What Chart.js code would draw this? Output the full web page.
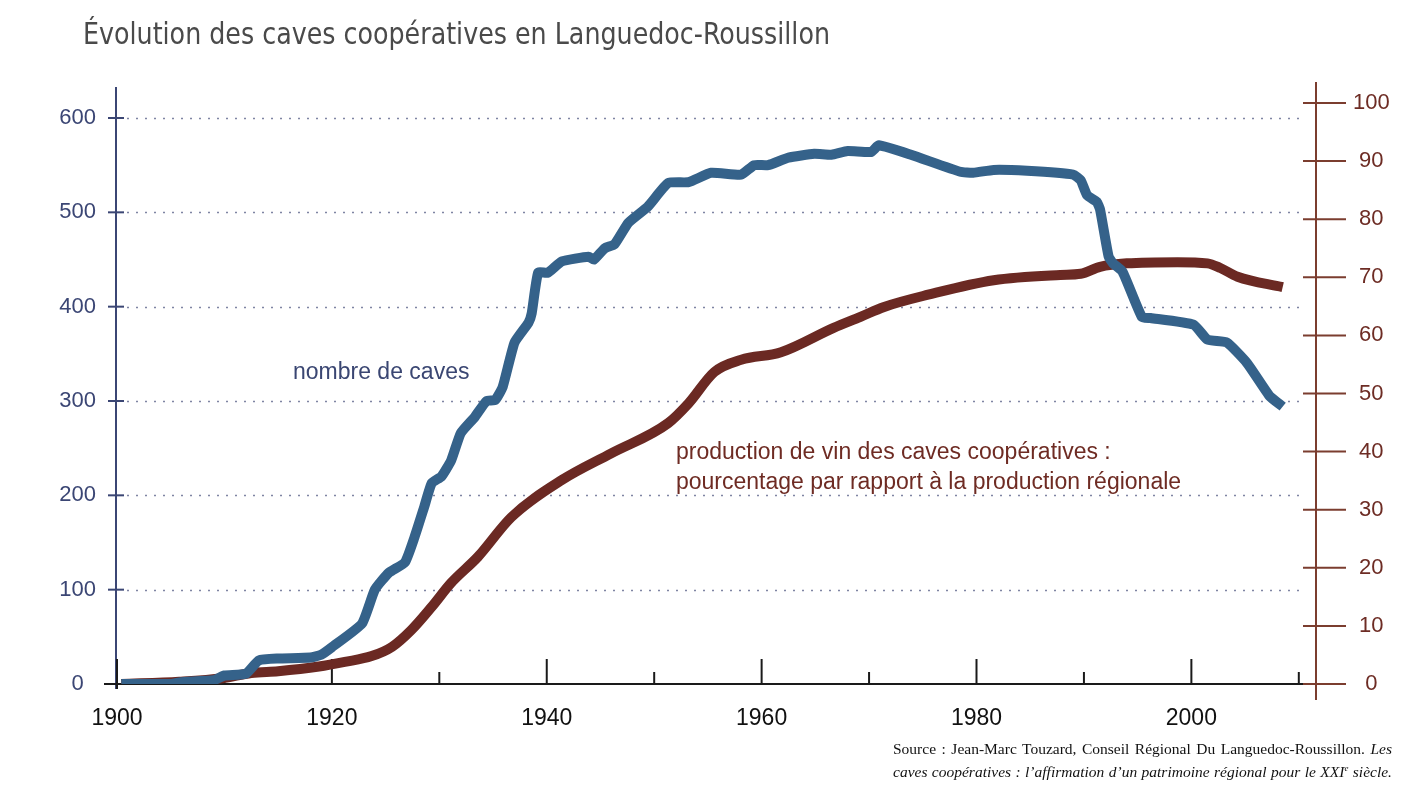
<!DOCTYPE html>
<html lang="fr">
<head>
<meta charset="utf-8">
<title>Évolution des caves coopératives en Languedoc-Roussillon</title>
<script src="https://cdn.jsdelivr.net/npm/chart.js@4.4.1/dist/chart.umd.min.js"></script>
<style>
  body { margin: 0; background: #fff; }
  #wrap { position: relative; width: 1426px; height: 800px; overflow: hidden; }
  #chart { position: absolute; left: 0; top: 0; }
  .title {
    position: absolute; left: 83px; top: 13px;
    font-family: "Liberation Sans Narrow", "DejaVu Sans Condensed", "DejaVu Sans", sans-serif;
    font-size: 31px; line-height: 40px; color: #4a4a4a; white-space: nowrap;
    transform-origin: 0 0;
  }
  .note {
    position: absolute; font-family: "Liberation Sans", Arial, sans-serif;
    font-size: 23px; line-height: 30px; white-space: nowrap;
  }
  .source {
    position: absolute; left: 893px; width: 499px;
    font-family: "Liberation Serif", "Times New Roman", serif;
    font-size: 15.5px; line-height: 23px; color: #111;
    text-align: justify; text-align-last: justify; white-space: nowrap;
  }
</style>
</head>
<body>
<div id="wrap">
  <canvas id="chart" width="1426" height="800"></canvas>
  <div class="title" id="title">Évolution des caves coopératives en Languedoc-Roussillon</div>
  <div class="note" style="left:293px; top:356px; color:#3a4672;">nombre de caves</div>
  <div class="note" style="left:676px; top:436px; color:#6e2b23;">production de vin des caves coopératives :<br>pourcentage par rapport à la production régionale</div>
  <div class="source" style="top:737px;">Source : Jean-Marc Touzard, Conseil Régional Du Languedoc-Roussillon. <i>Les</i></div>
  <div class="source" style="top:760px;"><i>caves coopératives : l’affirmation d’un patrimoine régional pour le XXI<sup style="font-size:9px; line-height:0;">e</sup> siècle.</i></div>
</div>
<script>
// nombre de caves coopératives (axe de gauche)
const caveYears = [1900.4, 1905, 1906, 1909, 1910, 1912, 1913.2, 1915, 1918, 1919, 1920,
  1922.8, 1924, 1925.3, 1926.8, 1927.7, 1928.6, 1929.3, 1930.2, 1931.1, 1932, 1933.3,
  1934.4, 1935.2, 1935.9, 1937, 1938.3, 1938.6, 1939.2, 1940.1, 1941.4, 1943.9, 1944.4,
  1945.4, 1946.3, 1947.6, 1949.4, 1951.3, 1953.2, 1955.3, 1958.1, 1959.3, 1960.6, 1962.5,
  1964.9, 1966.5, 1968, 1970.2, 1970.9, 1973.9, 1978.5, 1979.7, 1981.6, 1984.7, 1989,
  1989.7, 1990.3, 1991.2, 1991.5, 1992.3, 1992.7, 1993.6, 1995.4, 1996.2, 2000.2, 2001.5,
  2003.3, 2005.2, 2007.3, 2008.5]
const caveCounts = [0, 0, 2, 4, 9, 11, 25, 27, 28, 31, 39,
  64, 100, 118, 129, 156, 188, 213, 220, 237, 266, 283,
  300, 301, 315, 362, 383, 393, 436, 436, 448, 453, 450,
  462, 466, 489, 506, 531, 532, 542, 540, 550, 550, 558,
  562, 561, 565, 564, 571, 561, 543, 542, 545, 544, 540,
  534, 518, 511, 503, 453, 446, 437, 389, 388, 381, 365,
  362, 340, 305, 294]

// part de la production régionale, en % (axe de droite)
const prodYears = [1900.4, 1905.8, 1909.8, 1912.5, 1915, 1918.8, 1921.2, 1923.7, 1925.6,
  1927.4, 1929.3, 1931.1, 1933.6, 1936.7, 1941.4, 1946, 1951.3, 1953.2, 1955.6, 1958.1,
  1961.8, 1966.7, 1969.2, 1971.4, 1975.5, 1981.6, 1987.8, 1989.7, 1991.5, 1994, 1998.7,
  2001.5, 2002.7, 2004.3, 2008.5]
const prodShares = [0, 0.4, 1, 1.9, 2.2, 3, 3.8, 4.8, 6.4,
  9.3, 13.3, 17.4, 21.9, 28.7, 35.1, 39.7, 44.9, 48.3, 53.7, 55.8,
  57.1, 61.3, 63.2, 64.9, 67, 69.5, 70.4, 70.6, 71.8, 72.4, 72.6,
  72.4, 71.6, 70.1, 68.3]

const xTickYears = [1900, 1910, 1920, 1930, 1940, 1950, 1960, 1970, 1980, 1990, 2000, 2010]
const caveTicks = [0, 100, 200, 300, 400, 500, 600]
const shareTicks = [0, 10, 20, 30, 40, 50, 60, 70, 80, 90, 100]

const navy = '#3b4674'
const brown = '#7b3d2f'

function line(ctx, x1, y1, x2, y2) {
    ctx.beginPath()
    ctx.moveTo(x1, y1)
    ctx.lineTo(x2, y2)
    ctx.stroke()
}

// axes drawn by hand: ticks crossing the axis lines, dotted grid
const axesPlugin = {
    id: 'axesPlugin',
    beforeDatasetsDraw(chart) {
        const { ctx, chartArea, scales } = chart
        const x = scales.x, y = scales.y, y2 = scales.y2
        const left = chartArea.left - 1
        const right = chartArea.right
        const base = y.getPixelForValue(0)
        ctx.save()

        // dotted grid
        ctx.strokeStyle = '#7f85a3'
        ctx.lineWidth = 1.7
        ctx.setLineDash([2, 7])
        caveTicks.forEach(v => {
            if (v === 0) return
            const py = Math.round(y.getPixelForValue(v)) + 0.5
            line(ctx, left + 11, py, x.getPixelForValue(2010) + 4, py)
        })
        ctx.setLineDash([])

        // left axis
        ctx.strokeStyle = navy
        ctx.lineWidth = 2
        line(ctx, left, chartArea.top - 1, left, base + 5)
        caveTicks.forEach(v => {
            if (v === 0) return
            const py = y.getPixelForValue(v)
            line(ctx, left - 8, py, left + 8, py)
        })

        // x axis
        ctx.strokeStyle = '#1a1a1a'
        line(ctx, left - 12, base, right - 6, base)
        xTickYears.forEach(yr => {
            const px = x.getPixelForValue(yr)
            const len = yr % 20 === 0 ? 25 : 12
            line(ctx, px, base - len, px, yr === 1900 ? base + 5 : base)
        })

        // right axis
        ctx.strokeStyle = brown
        line(ctx, right, chartArea.top - 6, right, base + 16)
        shareTicks.forEach(v => {
            const py = y2.getPixelForValue(v)
            line(ctx, right - 13, py, right + 30, py)
        })
        ctx.restore()
    }
}

const ctx = document.getElementById('chart').getContext('2d')
new Chart(ctx, {
    type: 'line',
    data: {
        datasets: [{
            label: 'nombre de caves',
            data: caveYears.map((yr, i) => ({ x: yr, y: caveCounts[i] })),
            yAxisID: 'y',
            borderColor: '#35628a',
            borderWidth: 10,
            borderCapStyle: 'butt',
            borderJoinStyle: 'round',
            tension: 0.15,
            pointRadius: 0,
            fill: false
        }, {
            label: 'production de vin des caves coopératives',
            data: prodYears.map((yr, i) => ({ x: yr, y: prodShares[i] })),
            yAxisID: 'y2',
            borderColor: '#6b2923',
            borderWidth: 10,
            borderCapStyle: 'butt',
            borderJoinStyle: 'round',
            cubicInterpolationMode: 'monotone',
            pointRadius: 0,
            fill: false
        }]
    },
    options: {
        responsive: false,
        animation: false,
        events: [],
        layout: { padding: { top: 88, left: 0, right: 0, bottom: 0 } },
        plugins: { legend: { display: false }, tooltip: { enabled: false }, title: { display: false } },
        scales: {
            x: {
                type: 'linear',
                position: 'bottom',
                min: 1900,
                max: 2011.6,
                afterBuildTicks: s => { s.ticks = xTickYears.map(v => ({ value: v })) },
                afterFit: s => { s.height = 116 },
                grid: { display: false, drawTicks: false },
                border: { display: false },
                ticks: {
                    autoSkip: false,
                    maxRotation: 0,
                    padding: 21,
                    color: '#111',
                    font: { family: '"Liberation Sans", Arial, sans-serif', size: 23 },
                    callback: v => (v % 20 === 0 ? String(v) : '')
                }
            },
            y: {
                position: 'left',
                min: 0,
                max: 631.8,
                afterBuildTicks: s => { s.ticks = caveTicks.map(v => ({ value: v })) },
                afterFit: s => { s.width = 117 },
                grid: { display: false, drawTicks: false },
                border: { display: false },
                ticks: {
                    crossAlign: 'center',
                    padding: 21,
                    color: navy,
                    font: { family: '"Liberation Sans", Arial, sans-serif', size: 22 }
                }
            },
            y2: {
                position: 'right',
                min: 0,
                max: 102.58,
                afterBuildTicks: s => { s.ticks = shareTicks.map(v => ({ value: v })) },
                afterFit: s => { s.width = 110 },
                grid: { display: false, drawTicks: false },
                border: { display: false },
                ticks: {
                    crossAlign: 'center',
                    padding: 37,
                    color: '#6d2c24',
                    font: { family: '"Liberation Sans", Arial, sans-serif', size: 22 }
                }
            }
        }
    },
    plugins: [axesPlugin]
})

// stretch the title to the width it has in the picture
const title = document.getElementById('title')
const w = title.getBoundingClientRect().width
title.style.transform = 'scaleX(' + (747 / w) + ')'
</script>
</body>
</html>
